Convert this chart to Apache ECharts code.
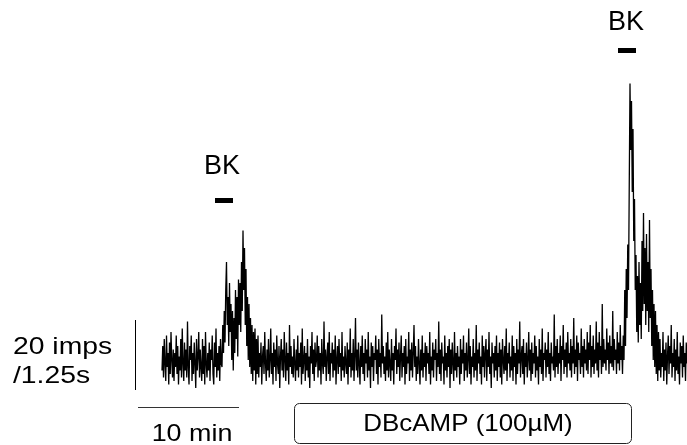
<!DOCTYPE html>
<html>
<head>
<meta charset="utf-8">
<script src="https://cdn.jsdelivr.net/npm/echarts@6/dist/echarts.min.js"></script>
<style>
  html, body { margin: 0; padding: 0; background: #fff; }
  #chart { width: 687px; height: 445px; }
</style>
</head>
<body>
<div id="chart"></div>
<script>
// firing rate trace, imps per 1.25 s bin, one sample every 0.075 min
const dt = 0.075
const baseStart = [
  7, 14, 5, 16, 9, 4, 17, 8, 12, 3, 15, 6, 18, 10, 5, 13,
  4, 12, 8, 17, 6, 14, 3, 11, 7, 16, 5, 19, 9, 4, 15, 7,
  13, 5, 21, 8, 3, 14, 10, 17, 4, 12, 6, 15, 9, 2, 16, 7,
  11, 18, 5, 13, 8, 4, 16, 6, 14, 3, 18, 9, 5, 12, 7, 15,
  4, 13, 10, 17, 6, 3, 15, 8, 19, 5, 12, 7, 14, 4, 16, 9,
]
const bk1 = [
  8, 20, 12, 24, 15, 30, 38, 20, 28, 14, 32, 18, 26, 10, 24, 7,
  22, 12, 30, 16, 28, 11, 33, 20, 32, 18, 38, 24, 47, 30, 42, 20,
  36, 14, 28, 10, 26, 8, 22, 6, 20, 4, 18, 7, 19, 3, 16, 6,
]
const dbcamp = [
  17, 5, 12, 8, 15, 3, 11, 14, 6, 18, 9, 4, 13, 7, 16, 5,
  10, 19, 6, 12, 3, 15, 8, 13, 4, 17, 9, 6, 14, 2, 11, 16,
  7, 13, 5, 18, 10, 4, 15, 7, 12, 3, 20, 8, 14, 6, 11, 5,
  16, 9, 4, 13, 7, 17, 5, 12, 8, 15, 3, 19, 6, 10, 14, 4,
  12, 7, 16, 5, 11, 2, 14, 9, 18, 6, 13, 4, 15, 8, 10, 17,
  5, 14, 7, 12, 3, 16, 9, 6, 21, 8, 13, 4, 11, 15, 6, 18,
  4, 12, 9, 15, 5, 13, 7, 17, 3, 10, 14, 6, 16, 8, 12, 4,
  18, 7, 11, 5, 14, 9, 6, 15, 3, 13, 8, 19, 5, 12, 7, 16,
  4, 11, 22, 7, 13, 5, 15, 9, 3, 14, 8, 17, 6, 12, 4, 16,
  9, 13, 5, 18, 7, 11, 2, 15, 8, 14, 4, 12, 10, 17, 6, 13,
  3, 16, 8, 12, 5, 23, 9, 14, 6, 11, 4, 15, 7, 18, 5, 13,
  9, 4, 16, 7, 12, 3, 14, 10, 19, 6, 13, 8, 15, 4, 11, 17,
  5, 12, 8, 14, 3, 16, 6, 11, 9, 18, 4, 13, 7, 15, 5, 12,
  20, 8, 14, 4, 11, 6, 16, 9, 3, 13, 7, 17, 5, 12, 8, 15,
  4, 14, 9, 12, 6, 18, 3, 11, 7, 15, 5, 13, 10, 16, 4, 12,
  8, 21, 6, 13, 4, 15, 9, 11, 3, 17, 7, 12, 5, 14, 8, 16,
  2, 13, 6, 15, 9, 4, 18, 7, 12, 5, 14, 8, 11, 3, 16, 6,
  13, 9, 17, 4, 12, 7, 15, 5, 10, 19, 6, 14, 3, 11, 8, 16,
  5, 12, 7, 20, 4, 13, 9, 15, 6, 11, 3, 17, 8, 14, 5, 12,
  16, 4, 13, 8, 18, 6, 11, 2, 15, 9, 12, 5, 14, 7, 17, 4,
  12, 8, 15, 5, 13, 3, 16, 10, 6, 14, 7, 19, 4, 12, 9, 15,
  5, 11, 7, 17, 4, 14, 8, 12, 3, 16, 6, 13, 9, 21, 5, 11,
  14, 6, 16, 3, 12, 8, 15, 5, 10, 18, 7, 13, 4, 15, 6, 12,
  9, 17, 5, 14, 7, 11, 3, 16, 8, 13, 6, 19, 4, 12, 10, 15,
  5, 13, 8, 18, 6, 12, 4, 15, 9, 11, 7, 23, 5, 14, 8, 16,
  6, 12, 9, 17, 4, 14, 10, 20, 6, 13, 8, 15, 5, 18, 9, 12,
  7, 16, 5, 14, 9, 22, 6, 13, 8, 17, 4, 15, 10, 12, 6, 19,
  8, 14, 5, 16, 9, 13, 7, 18, 6, 15, 10, 20, 5, 14, 8, 17,
  6, 13, 9, 21, 7, 15, 5, 18, 10, 14, 6, 26, 8, 16, 9, 13,
  7, 19, 10, 15, 6, 17, 9, 14, 8, 24, 7, 16, 10, 13, 6, 18,
  9, 15, 7, 20, 10, 14, 6, 17,
]
const bk2 = [
  10, 30, 14, 36, 22, 43, 30, 60, 89, 70, 84, 58, 76, 44, 56, 30,
  40, 18, 34, 15, 38, 20, 32, 16, 44, 24, 52, 26, 42, 20, 46, 24,
  38, 18, 50, 22, 36, 14, 30, 10, 26, 8, 24, 6, 20, 4, 18, 7,
]
const baseEnd = [
  16, 5, 12, 8, 18, 4, 13, 7, 15, 3, 11, 17, 6, 14, 9, 20,
  5, 12, 8, 16, 4, 13, 7, 18, 6, 11, 3, 15, 9, 14, 5, 17,
  8, 12, 4, 15, 9,
]

const rate = [...baseStart, ...bk1, ...dbcamp, ...bk2, ...baseEnd]
const trace = rate.map((v, i) => [i * dt, v])

const chart = echarts.init(document.getElementById('chart'))
const font = '"Liberation Sans", Arial, sans-serif'
const label = (text, x, y, size, align, sx) => ({
  type: 'text', x, y, scaleX: sx || 1,
  style: { text, font: `${size}px ${font}`, fill: '#000', textAlign: align, textVerticalAlign: 'middle' },
})

chart.setOption({
  animation: false,
  backgroundColor: '#fff',
  grid: { left: 162, right: 0, top: 10, bottom: 50 },
  xAxis: { type: 'value', min: 0, max: 52.5, show: false },
  yAxis: { type: 'value', min: 0, max: 110, show: false },
  series: [
    {
      type: 'line',
      data: trace,
      symbol: 'none',
      sampling: false,
      lineStyle: { color: '#000', width: 1.3 },
    },
  ],
  graphic: [
    label('BK', 222, 167, 27, 'center'),
    { type: 'rect', shape: { x: 215, y: 198, width: 18, height: 5 }, style: { fill: '#000' } },
    label('BK', 626, 23, 27, 'center'),
    { type: 'rect', shape: { x: 618, y: 48, width: 18, height: 5 }, style: { fill: '#000' } },
    { type: 'line', shape: { x1: 135.5, y1: 320, x2: 135.5, y2: 390 }, style: { stroke: '#000', lineWidth: 1 } },
    label('20 imps', 13, 347, 24, 'left', 1.18),
    label('/1.25s', 13, 376, 24, 'left', 1.18),
    { type: 'line', shape: { x1: 138, y1: 407.5, x2: 239, y2: 407.5 }, style: { stroke: '#333', lineWidth: 1 } },
    label('10 min', 192, 434, 24, 'center', 1.12),
    { type: 'rect', shape: { x: 294.5, y: 403.5, width: 337, height: 40, r: 5 }, style: { fill: 'none', stroke: '#222', lineWidth: 1 } },
    label('DBcAMP (100µM)', 468, 424, 24, 'center', 1.08),
  ],
})
</script>
</body>
</html>
